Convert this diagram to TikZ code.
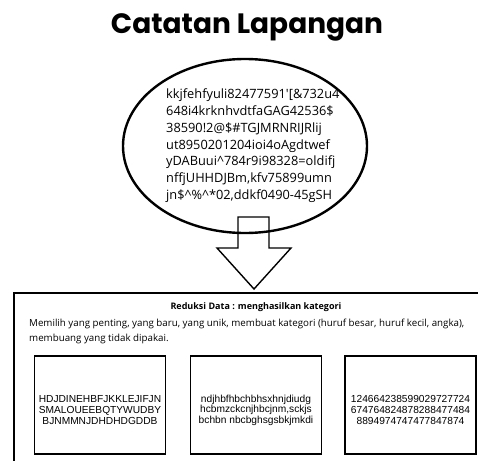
\documentclass[tikz,border=0pt]{standalone}
\usepackage{fontspec}
\setmainfont{Open Sans}
\newfontfamily\titlefont{Poppins}
\newfontfamily\rawfont{Open Sans}[Ligatures=TeXOff]
\newfontfamily\boxfont{Liberation Sans}
\usetikzlibrary{shapes.geometric}
\begin{document}
\begin{tikzpicture}[x=1pt,y=-1pt,
  notesshape/.style={ellipse, draw, line width=2.4pt, minimum width=244pt, minimum height=174pt, inner sep=0pt},
  bigframe/.style={draw, line width=1.8pt, minimum width=480pt, minimum height=180pt, inner sep=0pt, anchor=north west},
  catbox/.style={draw, line width=1.4pt, minimum width=131pt, minimum height=98pt, inner sep=0pt},
  cattext/.style={font=\boxfont\fontsize{10.2}{10.6}\selectfont, align=center, inner sep=0pt},
  arrowshape/.style={draw, line width=1.4pt, line join=miter}
]
\useasboundingbox (0,0) rectangle (478,460);
\clip (0,0) rectangle (478,460);

\node[font=\titlefont\bfseries\fontsize{28}{30}\selectfont, inner sep=0pt] (title) at (247,27) {Catatan Lapangan};

\node[notesshape] (notes) at (245,146) {};
\node[font=\rawfont\fontsize{12.8}{16.7}\selectfont, align=left, anchor=north west, inner sep=0pt] (raw) at (166,89)
{kkjfehfyuli82477591'[\&732u4\\
648i4krknhvdtfaGAG42536\$\\
38590!2@\$\#TGJMRNRIJRlij\\
ut8950201204ioi4oAgdtwef\\
yDABuui\^{}784r9i98328=oldifj\\
nffjUHHDJBm,kfv75899umn\\
jn\$\^{}\%\^{}*02,ddkf0490-45gSH};

\node[bigframe] (reduction) at (13,292) {};

\coordinate (s1) at (238,217);
\coordinate (s2) at (269,217);
\coordinate (s3) at (269,248);
\coordinate (s4) at (291,248);
\coordinate (tip) at (254,289);
\coordinate (s6) at (217,248);
\coordinate (s7) at (238,248);
\draw[arrowshape] (s1) -- (s2) -- (s3) -- (s4) -- (tip) -- (s6) -- (s7) -- cycle;

\node[font=\bfseries\fontsize{9}{10}\selectfont, inner sep=0pt] (heading) at (256,307) {Reduksi Data : menghasilkan kategori};
\node[font=\fontsize{9.75}{15}\selectfont, align=left, anchor=north west, inner sep=0pt] (desc) at (29,319)
{Memilih yang penting, yang baru, yang unik, membuat kategori (huruf besar, huruf kecil, angka),\\
membuang yang tidak dipakai.};

\node[catbox] (upper) at (100,405) {};
\node[catbox] (lower) at (256,405) {};
\node[catbox] (digits) at (410.5,405) {};

\node[cattext] (uppertext) at ([yshift=-5pt]upper.center)
{HDJDINEHBFJKKLEJIFJN\\SMALOUEEBQTYWUDBY\\BJNMMNJDHDHDGDDB};
\node[cattext] (lowertext) at ([yshift=-5pt]lower.center)
{ndjhbfhbchbhsxhnjdiudg\\hcbmzckcnjhbcjnm,sckjs\\bchbn nbcbghsgsbkjmkdi};
\node[cattext] (digitstext) at ([yshift=-5pt]digits.center)
{124664238599029727724\\674764824878288477484\\8894974747477847874};
\end{tikzpicture}
\end{document}
